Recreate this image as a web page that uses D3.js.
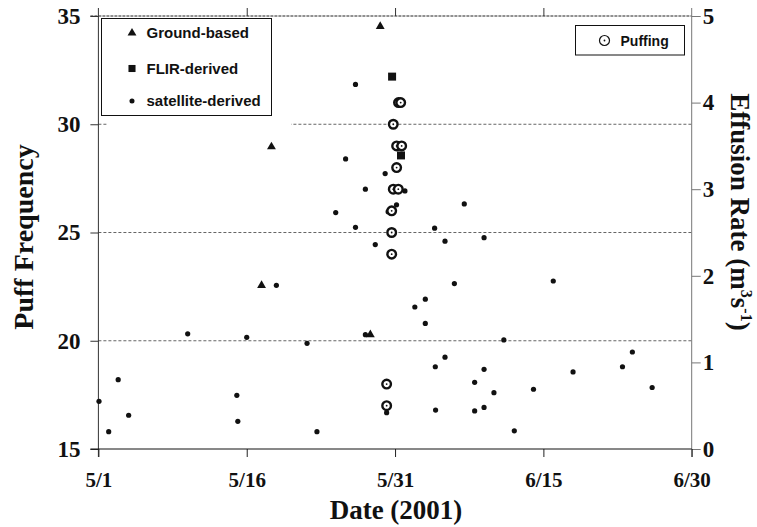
<!DOCTYPE html>
<html>
<head>
<meta charset="utf-8">
<script src="https://cdn.jsdelivr.net/npm/d3@7"></script>
<style>
body { margin: 0; background: #fff; }
</style>
</head>
<body>
<div class="chart"></div>
<script>
/* global d3 */
'use strict'
// x values are days counted from 5/1/2001
const groundDays = [28.5, 17.5, 16.5, 27.5]
const groundRates = [4.88, 3.49, 1.89, 1.32]
const flirDays = [29.7, 30.6]
const flirRates = [4.30, 3.39]
const satDays = [0.06, 1.04, 2.0, 3.06, 9.03, 14.0, 14.1, 15.0, 18.0, 21.1, 22.1, 24.0, 26.0, 28.0, 27.0,
  26.0, 25.0, 27.0, 29.0, 31.0, 30.15, 29.3, 29.15,
  37.0, 34.0, 35.05, 39.0, 36.0, 46.0, 32.0, 33.06, 33.06, 41.0, 35.05, 34.07, 39.0, 54.0, 53.0, 48.0,
  38.05, 40.0, 44.0, 56.0, 34.1, 38.05, 39.0, 42.06]
const satRates = [0.55, 0.20, 0.80, 0.39, 1.33, 0.62, 0.32, 1.29, 1.89, 1.22, 0.20, 2.73, 2.56, 2.36, 1.32,
  4.21, 3.35, 3.00, 3.18, 2.98, 2.82, 2.74, 0.42,
  2.83, 2.55, 2.40, 2.44, 1.91, 1.94, 1.64, 1.73, 1.45, 1.26, 1.06, 0.95, 0.92, 1.12, 0.95, 0.89,
  0.77, 0.65, 0.69, 0.71, 0.45, 0.44, 0.48, 0.21]
const puffDays = [30.35, 30.57, 29.82, 30.16, 30.67, 30.16, 29.82, 30.33, 29.66, 29.66, 29.66, 29.15, 29.15]
const puffCounts = [31, 31, 30, 29, 29, 28, 27, 27, 26, 25, 24, 18, 17]
const xTickDays = [0, 15, 30, 45, 60]
const xTickLabels = ['5/1', '5/16', '5/31', '6/15', '6/30']
const freqTicks = [15, 20, 25, 30, 35]
const freqGrid = [20, 25, 30]
const rateTicks = [0, 1, 2, 3, 4, 5]

const width = 757
const height = 527
const serif = '"Liberation Serif", "Times New Roman", serif'
const sans = '"Liberation Sans", Arial, sans-serif'
const ink = '#111'

const x = d3.scaleLinear().domain([0, 60]).range([98.4, 691.7])
const yFreq = d3.scaleLinear().domain([15, 35]).range([449, 16])
const yRate = d3.scaleLinear().domain([0, 5]).range([449, 16])

const svg = d3.select('.chart').append('svg')
  .attr('width', width)
  .attr('height', height)
  .style('display', 'block')

// dashed grid lines on the frequency scale
svg.append('g').selectAll('line')
  .data(freqGrid)
  .enter().append('line')
  .attr('x1', x(0))
  .attr('x2', x(60))
  .attr('y1', function (d) { return yFreq(d) })
  .attr('y2', function (d) { return yFreq(d) })
  .attr('stroke', '#666')
  .attr('stroke-dasharray', '3,2')

// top border, dashed as in the original
svg.append('line')
  .attr('x1', x(0) - 8)
  .attr('x2', x(60))
  .attr('y1', yFreq(35))
  .attr('y2', yFreq(35))
  .attr('stroke', '#222')
  .attr('stroke-dasharray', '3,1')

const styleAxis = function (g, color, size) {
  g.select('.domain').remove()
  g.selectAll('.tick line').attr('stroke', color)
  g.selectAll('.tick text')
    .attr('fill', ink)
    .style('font-family', serif)
    .style('font-weight', 'bold')
    .style('font-size', size + 'px')
}

// left axis (puff frequency)
const freqAxis = svg.append('g')
  .attr('transform', 'translate(' + x(0) + ',0)')
  .call(d3.axisLeft(yFreq).tickValues(freqTicks).tickSize(8).tickPadding(10))
freqAxis.call(styleAxis, '#333', 23)
freqAxis.append('line')
  .attr('y1', yFreq(35) - 8)
  .attr('y2', yFreq(15) + 8)
  .attr('stroke', '#333')

// right axis (effusion rate)
const rateAxis = svg.append('g')
  .attr('transform', 'translate(' + x(60) + ',0)')
  .call(d3.axisRight(yRate).tickValues(rateTicks).tickFormat(d3.format('d'))
    .tickSize(9).tickPadding(2))
rateAxis.call(styleAxis, '#777', 23)
rateAxis.append('line')
  .attr('y1', yRate(5) - 8)
  .attr('y2', yRate(0) + 8)
  .attr('stroke', '#777')

// bottom axis (dates)
const dateAxis = svg.append('g')
  .attr('transform', 'translate(0,' + yFreq(15) + ')')
  .call(d3.axisBottom(x).tickValues(xTickDays)
    .tickFormat(function (d, i) { return xTickLabels[i] })
    .tickSize(8).tickPadding(15))
dateAxis.call(styleAxis, '#222', 21)
dateAxis.append('line')
  .attr('x1', x(0) - 8)
  .attr('x2', x(60))
  .attr('stroke', '#111')

// small ticks on top
const topTicks = svg.append('g')
  .attr('transform', 'translate(0,' + yFreq(35) + ')')
  .call(d3.axisTop(x).tickValues(xTickDays.slice(1, 4)).tickFormat('').tickSize(8))
topTicks.call(styleAxis, '#333', 10)

// axis titles
svg.append('text')
  .attr('transform', 'translate(33,' + 237 + ')rotate(-90)')
  .attr('text-anchor', 'middle')
  .attr('fill', ink)
  .style('font-family', serif)
  .style('font-weight', 'bold')
  .style('font-size', '28px')
  .text('Puff Frequency')

svg.append('text')
  .attr('x', 396)
  .attr('y', 519)
  .attr('text-anchor', 'middle')
  .attr('fill', ink)
  .style('font-family', serif)
  .style('font-weight', 'bold')
  .style('font-size', '27px')
  .text('Date (2001)')

const rateTitle = svg.append('text')
  .attr('transform', 'translate(731,' + 212 + ')rotate(90)')
  .attr('text-anchor', 'middle')
  .attr('fill', ink)
  .style('font-family', serif)
  .style('font-weight', 'bold')
  .style('font-size', '27px')
rateTitle.append('tspan').text('Effusion Rate (m')
rateTitle.append('tspan').attr('dy', -10).style('font-size', '16px').text('3')
rateTitle.append('tspan').attr('dy', 10).text('s')
rateTitle.append('tspan').attr('dy', -10).style('font-size', '16px').text('-1')
rateTitle.append('tspan').attr('dy', 10).text(')')

// legend boxes
const legend = svg.append('g')
legend.append('rect')
  .attr('x', 108).attr('y', 17).attr('width', 183).attr('height', 112)
  .attr('fill', '#fff')
legend.append('rect')
  .attr('x', 101.5).attr('y', 18.5).attr('width', 170).attr('height', 97)
  .attr('fill', '#fff').attr('stroke', ink)

const legendRows = [
  { label: 'Ground-based', symbol: d3.symbolTriangle, size: 34, y: 33 },
  { label: 'FLIR-derived', symbol: d3.symbolSquare, size: 50, y: 68.5 },
  { label: 'satellite-derived', symbol: d3.symbolCircle, size: 20, y: 101 }
]
legend.selectAll('path.key')
  .data(legendRows)
  .enter().append('path')
  .attr('class', 'key')
  .attr('transform', function (d) { return 'translate(132,' + d.y + ')' })
  .attr('d', function (d) { return d3.symbol(d.symbol, d.size)() })
  .attr('fill', ink)
legend.selectAll('text')
  .data(legendRows)
  .enter().append('text')
  .attr('x', 146.5)
  .attr('y', function (d) { return d.y })
  .attr('dy', '0.36em')
  .attr('fill', ink)
  .style('font-family', sans)
  .style('font-weight', 'bold')
  .style('font-size', '15px')
  .text(function (d) { return d.label })

const puffLegend = svg.append('g')
puffLegend.append('rect')
  .attr('x', 575.5).attr('y', 25.5).attr('width', 109).attr('height', 29.5)
  .attr('fill', '#fff').attr('stroke', ink)
puffLegend.append('circle')
  .attr('cx', 604.5).attr('cy', 40.5).attr('r', 5)
  .attr('fill', '#fff').attr('stroke', ink).attr('stroke-width', 1.2)
puffLegend.append('circle')
  .attr('cx', 604.5).attr('cy', 40.5).attr('r', 0.9)
  .attr('fill', ink)
puffLegend.append('text')
  .attr('x', 620.5)
  .attr('y', 40.5)
  .attr('dy', '0.36em')
  .attr('fill', ink)
  .style('font-family', sans)
  .style('font-weight', 'bold')
  .style('font-size', '14px')
  .text('Puffing')

// satellite-derived effusion rates
svg.append('g').selectAll('circle')
  .data(satDays)
  .enter().append('circle')
  .attr('cx', function (d) { return x(d) })
  .attr('cy', function (d, i) { return yRate(satRates[i]) })
  .attr('r', 2.6)
  .attr('fill', ink)

// ground-based
svg.append('g').selectAll('path')
  .data(groundDays)
  .enter().append('path')
  .attr('transform', function (d, i) { return 'translate(' + x(d) + ',' + yRate(groundRates[i]) + ')' })
  .attr('d', d3.symbol(d3.symbolTriangle, 34))
  .attr('fill', ink)

// FLIR-derived
svg.append('g').selectAll('path')
  .data(flirDays)
  .enter().append('path')
  .attr('transform', function (d, i) { return 'translate(' + x(d) + ',' + yRate(flirRates[i]) + ')' })
  .attr('d', d3.symbol(d3.symbolSquare, 64))
  .attr('fill', ink)

// puffing frequency
const puffs = svg.append('g').selectAll('g')
  .data(puffDays)
  .enter().append('g')
  .attr('transform', function (d, i) { return 'translate(' + x(d) + ',' + yFreq(puffCounts[i]) + ')' })
puffs.append('circle')
  .attr('r', 4.3)
  .attr('fill', '#fff')
  .attr('stroke', ink)
  .attr('stroke-width', 2.4)
puffs.append('circle')
  .attr('r', 0.9)
  .attr('fill', ink)
</script>
</body>
</html>
